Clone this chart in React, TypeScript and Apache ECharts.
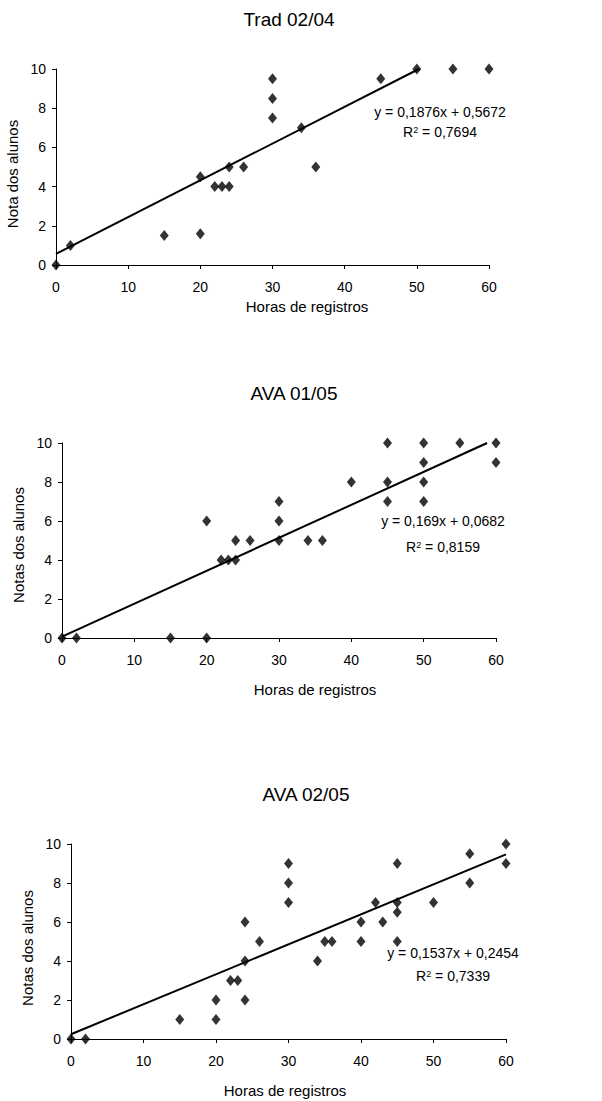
import React, { useEffect, useRef } from "react";
import * as echarts from "echarts";

const titles = ["Trad 02/04", "AVA 01/05", "AVA 02/05"];
const yNames = ["Nota dos alunos", "Notas dos alunos", "Notas dos alunos"];
const xName = "Horas de registros";

const tradX = [0, 2, 15, 20, 20, 22, 23, 24, 24, 26, 30, 30, 30, 34, 36, 45, 50, 55, 60];
const tradY = [0, 1, 1.5, 4.5, 1.6, 4, 4, 4, 5, 5, 9.5, 8.5, 7.5, 7, 5, 9.5, 10, 10, 10];

const ava1X = [0, 2, 15, 20, 20, 22, 23, 24, 24, 26, 30, 30, 30, 34, 36, 40, 45, 45, 45, 50, 50, 50, 50, 55, 60, 60];
const ava1Y = [0, 0, 0, 0, 6, 4, 4, 4, 5, 5, 7, 6, 5, 5, 5, 8, 10, 8, 7, 10, 9, 8, 7, 10, 10, 9];

const ava2X = [0, 2, 15, 20, 20, 22, 23, 24, 24, 24, 26, 30, 30, 30, 34, 35, 36, 40, 40, 42, 43, 45, 45, 45, 45, 50, 55, 55, 60, 60];
const ava2Y = [0, 0, 1, 2, 1, 3, 3, 6, 4, 2, 5, 9, 8, 7, 4, 5, 5, 6, 5, 7, 6, 9, 7, 6.5, 5, 7, 9.5, 8, 10, 9];

const slopes = [0.1876, 0.169, 0.1537];
const intercepts = [0.5672, 0.0682, 0.2454];
const eqTexts = ["y = 0,1876x + 0,5672", "y = 0,169x + 0,0682", "y = 0,1537x + 0,2454"];
const r2Texts = ["0,7694", "0,8159", "0,7339"];

const X_MIN = 0;
const X_MAX = 60;
const Y_MIN = 0;
const Y_MAX = 10;

const FONT = "'Liberation Sans', Arial, sans-serif";

export default function App() {
  const ref = useRef<HTMLDivElement>(null);

  useEffect(() => {
    if (!ref.current) return;
    const chart = echarts.init(ref.current, null, { renderer: "svg" });

    const xs = [tradX, ava1X, ava2X];
    const ys = [tradY, ava1Y, ava2Y];

    const grids = [
      { left: 56, right: 113, top: 69, height: 196 },
      { left: 62, right: 106, top: 443, height: 195 },
      { left: 71, right: 96, top: 844, height: 195 },
    ];
    const xNamePad = [
      [0, 0, 0, 69],
      [0, 0, 0, 72],
      [0, 7, 0, 0],
    ];
    const xNameGap = [34, 44, 44];
    const yNamePad = [
      [0, 14, 0, 0],
      [0, 9, 0, 0],
      [0, 13, 0, 0],
    ];
    const yNameGap = [31, 33, 30];
    const titlePos = [
      [289, 19],
      [294, 393],
      [306, 794],
    ];
    const eqPos = [
      [440, 112, 132],
      [443, 521, 547],
      [453, 953, 976],
    ];

    const axisCommon = {
      axisLine: { show: true, lineStyle: { color: "#000", width: 1 } },
      axisTick: { show: true, inside: false, length: 4, lineStyle: { color: "#000" } },
      splitLine: { show: false },
    };

    const xAxis = grids.map((_, i) => ({
      type: "value",
      gridIndex: i,
      min: X_MIN,
      max: X_MAX,
      interval: 10,
      name: xName,
      nameLocation: "middle",
      nameGap: xNameGap[i],
      nameTextStyle: { fontFamily: FONT, fontSize: 15, color: "#000", padding: xNamePad[i] },
      axisLabel: { fontFamily: FONT, fontSize: 14, color: "#000", margin: 15 },
      ...axisCommon,
    }));
    const yAxis = grids.map((_, i) => ({
      type: "value",
      gridIndex: i,
      min: Y_MIN,
      max: Y_MAX,
      interval: 2,
      name: yNames[i],
      nameLocation: "middle",
      nameGap: yNameGap[i],
      nameTextStyle: { fontFamily: FONT, fontSize: 15, color: "#000", padding: yNamePad[i] },
      axisLabel: { fontFamily: FONT, fontSize: 14, color: "#000", margin: 10 },
      ...axisCommon,
    }));

    const series: any[] = [];
    for (let i = 0; i < 3; i++) {
      series.push({
        type: "scatter",
        xAxisIndex: i,
        yAxisIndex: i,
        symbol: "diamond",
        symbolSize: [9, 11],
        itemStyle: { color: "#000" },
        clip: false,
        data: xs[i].map((x, k) => [x, ys[i][k]]),
        z: 3,
      });
      const m = slopes[i];
      const b = intercepts[i];
      const xEnd = Math.min(X_MAX, (Y_MAX - b) / m);
      series.push({
        type: "line",
        xAxisIndex: i,
        yAxisIndex: i,
        showSymbol: false,
        symbol: "none",
        lineStyle: { color: "#000", width: 2 },
        data: [
          [X_MIN, m * X_MIN + b],
          [xEnd, m * xEnd + b],
        ],
        z: 2,
      });
    }

    const graphic: any[] = [];
    for (let i = 0; i < 3; i++) {
      graphic.push({
        type: "text",
        x: titlePos[i][0],
        y: titlePos[i][1],
        style: {
          text: titles[i],
          fontFamily: FONT,
          fontSize: 19,
          fill: "#000",
          textAlign: "center",
          textVerticalAlign: "middle",
        },
      });
      graphic.push({
        type: "text",
        x: eqPos[i][0],
        y: eqPos[i][1],
        style: {
          text: eqTexts[i],
          fontFamily: FONT,
          fontSize: 14,
          fill: "#000",
          textAlign: "center",
          textVerticalAlign: "middle",
        },
      });
      graphic.push({
        type: "text",
        x: eqPos[i][0],
        y: eqPos[i][2],
        style: {
          text: "R{s|2} = " + r2Texts[i],
          fontFamily: FONT,
          fontSize: 14,
          fill: "#000",
          textAlign: "center",
          textVerticalAlign: "middle",
          rich: {
            s: { fontFamily: FONT, fontSize: 9, fill: "#000", verticalAlign: "top", lineHeight: 10 },
          },
        },
      });
    }

    chart.setOption({
      animation: false,
      backgroundColor: "#fff",
      textStyle: { fontFamily: FONT },
      grid: grids.map((g) => ({ ...g, show: false, outerBoundsMode: "none" })),
      xAxis,
      yAxis,
      series,
      graphic,
    });

    return () => chart.dispose();
  }, []);

  return (
    <div
      ref={ref}
      style={{ position: "absolute", left: 0, top: 0, width: 602, height: 1101, background: "#fff" }}
    />
  );
}
